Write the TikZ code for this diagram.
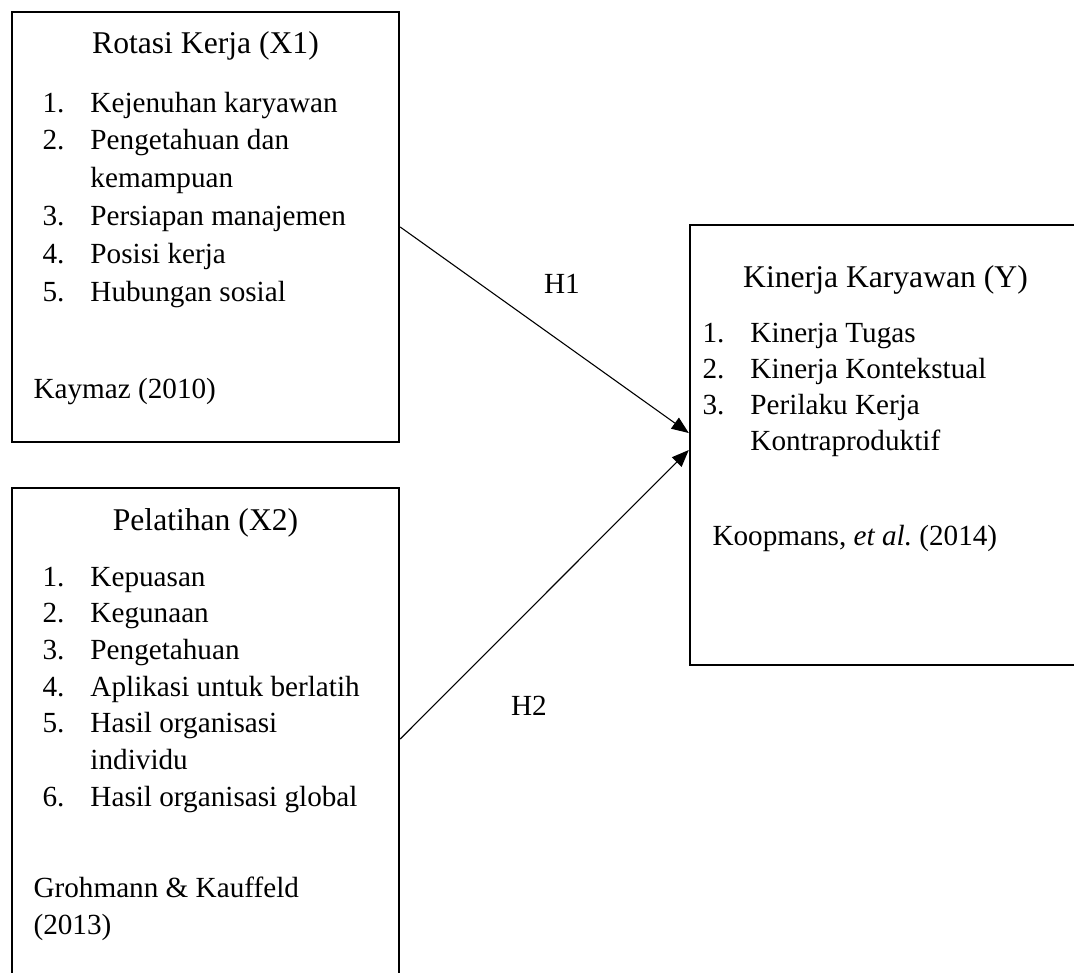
\documentclass[tikz,border=0pt]{standalone}
\usepackage{fontspec}
\setmainfont{Liberation Serif}
\usepackage{tikz}
\usetikzlibrary{arrows.meta,calc}
\newcommand{\pxl}{0.411pt}
\tikzset{
    box/.style={draw, line width=1pt, inner sep=0pt, minimum width=387*\pxl},
    title/.style={anchor=base, inner sep=0pt, font=\fontsize{13}{16}\selectfont},
    itemlist/.style={anchor=base west, inner sep=0pt, font=\fontsize{12}{#1}\selectfont},
    itemlist/.default=15pt,
    cite/.style={anchor=base west, inner sep=0pt, font=\fontsize{12}{15.6}\selectfont},
    hyp/.style={anchor=base, inner sep=0pt, font=\fontsize{12}{14}\selectfont}
}

\begin{document}
\begin{tikzpicture}[x=\pxl, y=-\pxl, >={Triangle[length=7pt,width=5.5pt]}, line width=0.45pt]

\useasboundingbox (0,0) rectangle (1074,972);
\clip (0,0) rectangle (1074,972);

% boxes
\node[box, minimum height=430*\pxl] (rot) at (205.5,227) {};
\node[box, minimum height=502*\pxl] (pel) at (205.5,739) {};
\node[box, minimum width=410*\pxl, minimum height=440*\pxl] (kin) at (895,445) {};

% Rotasi Kerja
\node[title] (rottitle) at (205.5,53) {Rotasi Kerja (X1)};
\node[itemlist=15.6pt] (rotlist) at (42,112) {\begin{tabular}[t]{@{}p{19.7pt}@{}l@{}}
1. & Kejenuhan karyawan\\
2. & Pengetahuan dan\\
   & kemampuan\\
3. & Persiapan manajemen\\
4. & Posisi kerja\\
5. & Hubungan sosial
\end{tabular}};
\node[cite] (rotcite) at (33,398) {Kaymaz (2010)};

% Pelatihan
\node[title] (peltitle) at (205.5,530) {Pelatihan (X2)};
\node[itemlist=15.1pt] (pellist) at (42,586) {\begin{tabular}[t]{@{}p{19.7pt}@{}l@{}}
1. & Kepuasan\\
2. & Kegunaan\\
3. & Pengetahuan\\
4. & Aplikasi untuk berlatih\\
5. & Hasil organisasi\\
   & individu\\
6. & Hasil organisasi global
\end{tabular}};
\node[cite] (pelcite) at (33,897) {\begin{tabular}[t]{@{}l@{}}
Grohmann \& Kauffeld\\
(2013)
\end{tabular}};

% Kinerja Karyawan
\node[title] (kintitle) at (885.5,287) {Kinerja Karyawan (Y)};
\node[itemlist=14.8pt] (kinlist) at (702,342) {\begin{tabular}[t]{@{}p{19.7pt}@{}l@{}}
1. & Kinerja Tugas\\
2. & Kinerja Kontekstual\\
3. & Perilaku Kerja\\
   & Kontraproduktif
\end{tabular}};
\node[cite] (kincite) at (712,545) {Koopmans, \textit{et al.}\ (2014)};

% hypotheses
\draw[->] (rot.east) -- ($(kin.west)+(0,-12)$);
\draw[->] (pel.east) -- ($(kin.west)+(0,5)$);
\node[hyp] (h1) at (562,293) {H1};
\node[hyp] (h2) at (529,715) {H2};

\end{tikzpicture}
\end{document}
